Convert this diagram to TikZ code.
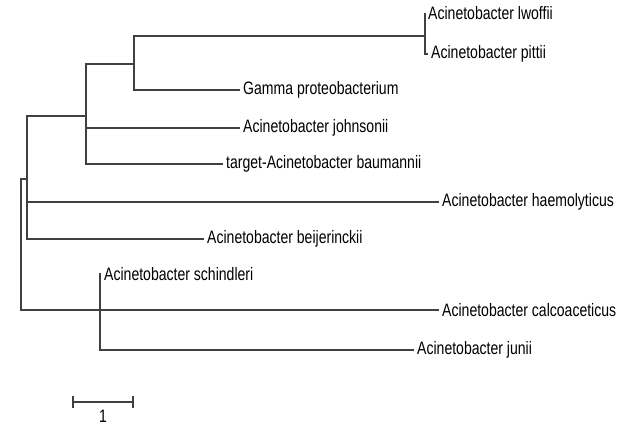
\documentclass[tikz,border=0pt]{standalone}
\usepackage{fontspec}
\setmainfont[FakeStretch=0.78]{Liberation Sans}
\begin{document}
\begin{tikzpicture}[x=1pt, y=-1pt, font=\fontsize{18}{21}\selectfont, line join=miter,
  br/.style={line width=1.7pt, black!75},
  leaf/.style={anchor=mid west, inner sep=3pt}]
\useasboundingbox (0,0) rectangle (631,427);
% inner nodes of the tree
\coordinate (root) at (21,179); \coordinate (nA) at (27,179); \coordinate (nB) at (86,116);
\coordinate (nC) at (134,64); \coordinate (nD) at (425,36); \coordinate (nE) at (100,314);
% leaves
\node[leaf] (lwoffii) at (425,17) {Acinetobacter lwoffii};
\node[leaf] (pittii) at (428,56) {Acinetobacter pittii};
\node[leaf] (gamma) at (240,92) {Gamma proteobacterium};
\node[leaf] (johns) at (240,130) {Acinetobacter johnsonii};
\node[leaf] (target) at (223,166) {target-Acinetobacter baumannii};
\node[leaf] (haemo) at (439,204) {Acinetobacter haemolyticus};
\node[leaf] (beij) at (204,241) {Acinetobacter beijerinckii};
\node[leaf] (schind) at (101,278) {Acinetobacter schindleri};
\node[leaf] (calco) at (439,314) {Acinetobacter calcoaceticus};
\node[leaf] (junii) at (414,352) {Acinetobacter junii};
% branches
\draw[br] (nA) -- (root) |- (calco.west);
\draw[br] (nA) |- (nB) (nA) |- (haemo.west) (nA) |- (beij.west);
\draw[br] (nB) |- (nC) (nB) |- (johns.west) (nB) |- (target.west);
\draw[br] (nC) |- (nD) (nC) |- (gamma.west);
\draw[br] (nD) |- (lwoffii.west) (nD) |- (pittii.west);
\draw[br] (nE) |- (schind.west) (nE) |- (junii.west);
% scale bar
\coordinate (s0) at (73,402); \coordinate (s1) at (133,402);
\draw[br] (s0) -- (s1) (s0) ++(0,-6) -- ++(0,12) (s1) ++(0,-6) -- ++(0,12);
\node[anchor=north, inner sep=0pt] (one) at (103,410) {1};
\end{tikzpicture}
\end{document}
